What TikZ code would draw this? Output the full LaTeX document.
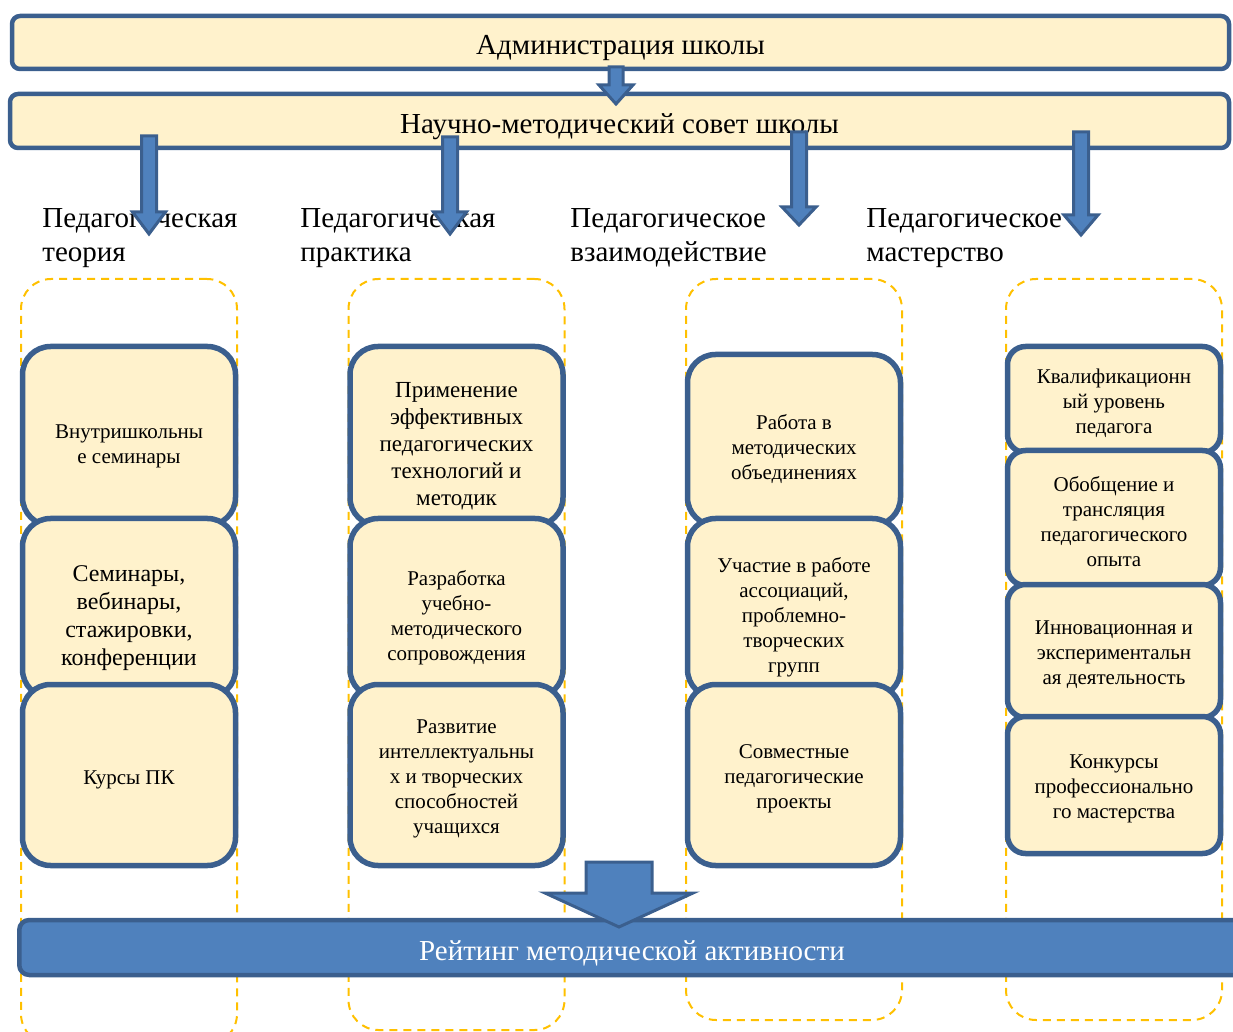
\documentclass[tikz,border=0pt]{standalone}
\usepackage{fontspec}
\setmainfont{Liberation Serif}
\usetikzlibrary{calc}
\definecolor{BoxClr}{HTML}{FFF2CC}
\definecolor{EdgeClr}{HTML}{3B5F8E}
\definecolor{ArrowClr}{HTML}{4F81BD}
\definecolor{FrameClr}{HTML}{FFC000}

% block arrow pointing down: from, to, half shaft, half head, head length
\newcommand\blockdown[5]{%
  \draw[blockarrow] let \p1=(#1), \p2=(#2) in
    (\x1-#3,\y1) -- (\x1+#3,\y1) -- (\x1+#3,\y2+#5) -- (\x1+#4,\y2+#5)
    -- (\x1,\y2) -- (\x1-#4,\y2+#5) -- (\x1-#3,\y2+#5) -- cycle;}

\begin{document}
\begin{tikzpicture}[x=0.5pt,y=-0.5pt,
  topbox/.style={draw=EdgeClr,fill=BoxClr,line width=2.25pt,rounded corners=4pt,
    minimum width=608.5pt,minimum height=26.5pt,inner sep=0pt,
    text height=15.5pt,text depth=3pt,font=\fontsize{14.5}{17}\selectfont},
  frame/.style={draw=FrameClr,line width=1pt,dash pattern=on 4pt off 3pt,
    rounded corners=15pt,minimum width=108pt,inner sep=0pt},
  item/.style={draw=EdgeClr,fill=BoxClr,line width=2.75pt,rounded corners=14pt,
    minimum width=106.5pt,inner sep=0pt,font=\fontsize{10.5}{12.5}\selectfont,
    execute at begin node={\begin{minipage}{104pt}\centering\vspace*{#1}},
    execute at end node={\end{minipage}}},
  item/.default=4pt,
  smallitem/.style={item,rounded corners=9pt},
  heading/.style={anchor=north west,align=left,inner sep=0pt,
    font=\fontsize{14.5}{17}\selectfont},
  blockarrow/.style={draw=EdgeClr,fill=ArrowClr,line width=1.5pt,line join=miter}]

\useasboundingbox (0,0) rectangle (1233,1032);

% dashed column frames
\node[frame,minimum height=382.5pt] (thf) at (129,661.5) {};
\node[frame,minimum height=375.5pt] (prf) at (456.5,654.5) {};
\node[frame,minimum height=370.5pt] (vzf) at (794,649.5) {};
\node[frame,minimum height=370.5pt] (msf) at (1114,649.5) {};

% Педагогическая теория
\node[item=10pt,minimum height=89.5pt] (th1) at (129,436) {Внутришкольны\\е семинары};
\node[item=10pt,minimum height=89.5pt,font=\fontsize{12}{14}\selectfont] (th2) at (129,608)
  {Семинары,\\вебинары,\\стажировки,\\конференции};
\node[item=5pt,minimum height=90.5pt] (th3) at (129,775) {Курсы ПК};

% Педагогическая практика
\node[item=10pt,minimum height=89.5pt,font=\fontsize{11.5}{13.5}\selectfont] (pr1) at (456.5,436)
  {Применение\\эффективных\\педагогических\\технологий и\\методик};
\node[item=10pt,minimum height=89.5pt] (pr2) at (456.5,608)
  {Разработка\\учебно-\\методического\\сопровождения};
\node[item,minimum height=90.5pt] (pr3) at (456.5,775)
  {Развитие\\интеллектуальны\\х и творческих\\способностей\\учащихся};

% Педагогическое взаимодействие
\node[item=9pt,minimum height=85.5pt] (vz1) at (794,440)
  {Работа в\\методических\\объединениях};
\node[item=9pt,minimum height=89.5pt] (vz2) at (794,608)
  {Участие в работе\\ассоциаций,\\проблемно-\\творческих\\групп};
\node[item,minimum height=90.5pt] (vz3) at (794,775)
  {Совместные\\педагогические\\проекты};

% Педагогическое мастерство
\node[smallitem,minimum height=53pt] (ms1) at (1114,399.5)
  {Квалификационн\\ый уровень\\педагога};
\node[smallitem,minimum height=67.5pt] (ms2) at (1114,518)
  {Обобщение и\\трансляция\\педагогического\\опыта};
\node[smallitem,minimum height=66.5pt] (ms3) at (1114,651)
  {Инновационная и\\экспериментальн\\ая деятельность};
\node[smallitem,minimum height=68.5pt] (ms4) at (1114,785)
  {Конкурсы\\профессионально\\го мастерства};

\node[topbox] (adm) at (620.5,42.5) {Администрация школы};
\node[topbox,minimum width=609.5pt,minimum height=27pt] (nms) at (619.5,121)
  {Научно-методический совет школы};

\node[heading] (th) at (42,208) {Педагогическая\\теория};
\node[heading] (pr) at (300,208) {Педагогическая\\практика};
\node[heading] (vz) at (570,208) {Педагогическое\\взаимодействие};
\node[heading] (ms) at (866,208) {Педагогическое\\мастерство};

\node[draw=EdgeClr,fill=ArrowClr,line width=2.25pt,rounded corners=5pt,
  minimum width=612.75pt,minimum height=27.5pt,inner sep=0pt,text=white,
  text height=15.5pt,text depth=3pt,
  font=\fontsize{14.5}{17}\selectfont] (rating) at (632,947.5)
  {Рейтинг методической активности};

\coordinate (adm-out) at (616,67);
\coordinate (nms-in) at (616,104);
\coordinate (th-out) at (149,136);
\coordinate (th-in) at (149,234);
\coordinate (pr-out) at (450,137);
\coordinate (pr-in) at (450,234);
\coordinate (vz-out) at (799,132);
\coordinate (vz-in) at (799,225);
\coordinate (ms-out) at (1081,132);
\coordinate (ms-in) at (1081,235);
\coordinate (all-out) at (619,862);
\coordinate (rating-in) at (619,927);

\blockdown{adm-out}{nms-in}{3.5pt}{8.5pt}{9.5pt}
\blockdown{th-out}{th-in}{3.75pt}{8.25pt}{11pt}
\blockdown{pr-out}{pr-in}{3.75pt}{8.25pt}{11pt}
\blockdown{vz-out}{vz-in}{3.75pt}{8.5pt}{9pt}
\blockdown{ms-out}{ms-in}{3.75pt}{8.5pt}{10pt}
\blockdown{all-out}{rating-in}{16.5pt}{37pt}{17pt}

\end{tikzpicture}
\end{document}
